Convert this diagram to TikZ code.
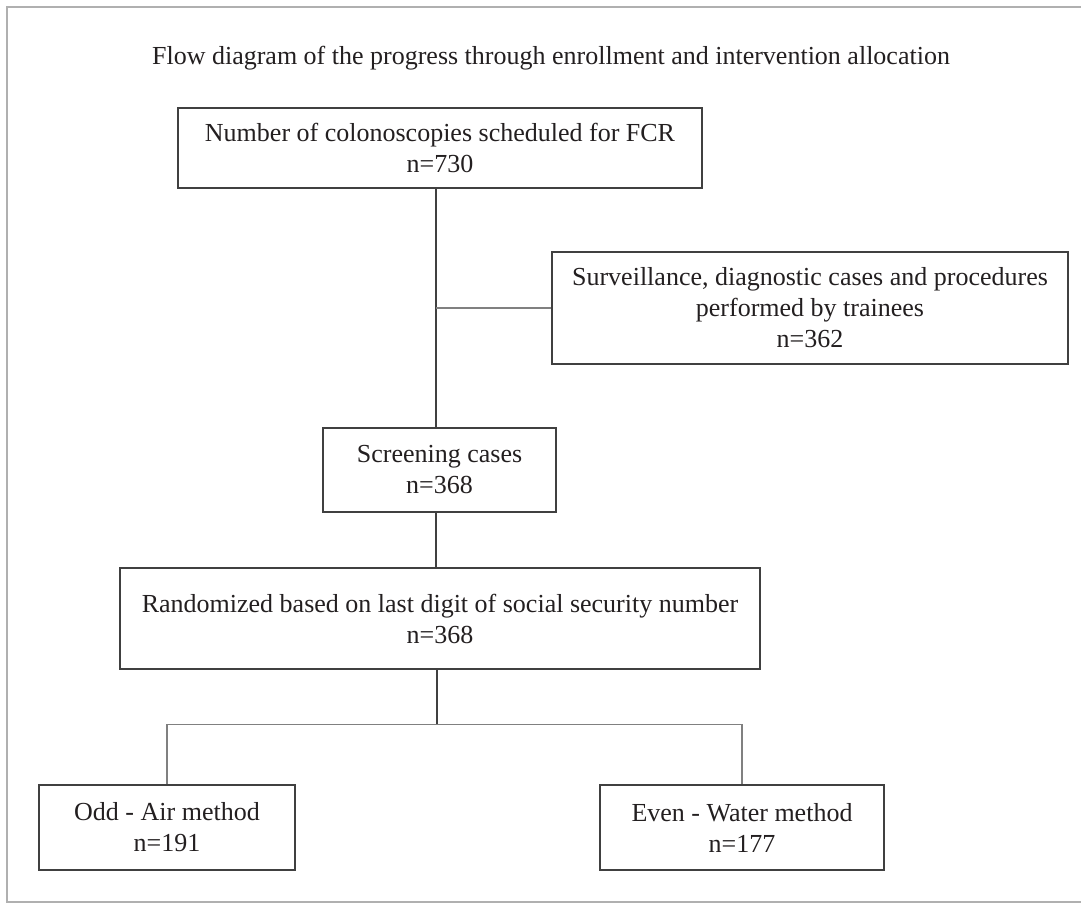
\documentclass[tikz,border=0pt]{standalone}
\usepackage{fontspec}
\setmainfont{Liberation Serif}
\usetikzlibrary{positioning}
\definecolor{inkgray}{HTML}{231F20}
\definecolor{edgegray}{HTML}{404040}
\definecolor{linkgray}{HTML}{808080}
\definecolor{framegray}{HTML}{B0B0B0}
\tikzset{
  box/.style={draw=edgegray, line width=0.7pt, rectangle, inner sep=0pt, align=center,
    text=inkgray, font=\fontsize{13}{15.5}\selectfont},
  conn/.style={draw=edgegray, line width=0.6pt},
  branch/.style={draw=linkgray, line width=0.8pt},
}
\begin{document}
\begin{tikzpicture}[x=0.5pt, y=-0.5pt, line join=miter]
\useasboundingbox (0,0) rectangle (1081,903);
\draw[framegray, line width=0.6pt] (1081,7) -- (7,7) -- (7,902) -- (1081,902);
\node[text=inkgray, font=\fontsize{13}{15.5}\selectfont, anchor=base] (title) at (551,65)
  {Flow diagram of the progress through enrollment and intervention allocation};
% boxes
\node[box, minimum width=262pt, minimum height=40pt] (total) at (440,148)
  {Number of colonoscopies scheduled for FCR\\n=730};
\node[box, minimum width=258pt, minimum height=56pt] (excl) at (810,308)
  {Surveillance, diagnostic cases and procedures\\performed by trainees\\n=362};
\node[box, minimum width=116.5pt, minimum height=42pt] (screen) at (439.5,470)
  {Screening cases\\n=368};
\node[box, minimum width=320pt, minimum height=50.5pt] (rand) at (440,618.5)
  {Randomized based on last digit of social security number\\n=368};
\node[box, minimum width=128pt, minimum height=42.5pt] (odd) at (167,827.5)
  {Odd - Air method\\n=191};
\node[box, minimum width=142pt, minimum height=42.5pt] (even) at (742,827.5)
  {Even - Water method\\n=177};
% connectors
\coordinate (spine) at (436,0);
\coordinate (split) at (437,724.5);
\draw[conn] (total.south -| spine) -- (screen.north -| spine);
\draw[branch] (spine |- excl.west) -- (excl.west);
\draw[conn] (screen.south -| spine) -- (rand.north -| spine);
\draw[conn] (rand.south -| split) -- (split);
\draw[branch] (odd.north) |- (split) -| (even.north);
\end{tikzpicture}
\end{document}
